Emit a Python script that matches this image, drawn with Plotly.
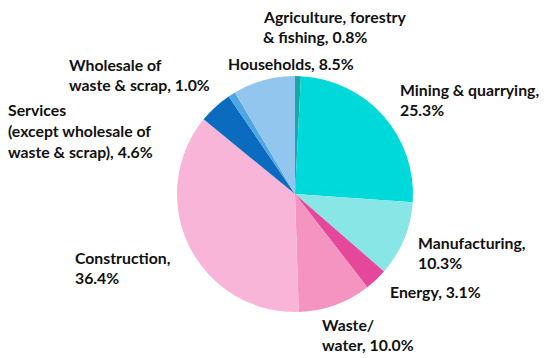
import plotly.graph_objects as go

sectors = ["Agriculture, forestry & fishing", "Mining & quarrying", "Manufacturing",
           "Energy", "Waste/water", "Construction",
           "Services (except wholesale of waste & scrap)", "Wholesale of waste & scrap",
           "Households"]
shares = [0.8, 25.3, 10.3, 3.1, 10.0, 36.4, 4.6, 1.0, 8.5]
colors = ["#17a9a9", "#00d9d9", "#88e6e6", "#e5479a", "#f593c1", "#f9b5d7",
          "#0b6cbf", "#4fa6e0", "#93c6ee"]

# label text lines and (left x, first line centre y) in page pixels
label_lines = [
    ["Agriculture, forestry", "& fishing, 0.8%"],
    ["Mining & quarrying,", "25.3%"],
    ["Manufacturing,", "10.3%"],
    ["Energy, 3.1%"],
    ["Waste/", "water, 10.0%"],
    ["Construction,", "36.4%"],
    ["Services", "(except wholesale of", "waste & scrap), 4.6%"],
    ["Wholesale of", "waste & scrap, 1.0%"],
    ["Households, 8.5%"],
]
label_pos = [(263, 16), (400, 89), (418, 242), (390, 291), (322, 324),
             (75, 257), (8, 110), (69, 64), (228, 63)]

OFF = 8  # page body margin
W, H = 550 - OFF, 358 - OFF
cx, cy, r = 295 - OFF, 194 - OFF, 118

fig = go.Figure(go.Pie(
    labels=sectors, values=shares, sort=False, direction="clockwise", rotation=0,
    marker=dict(colors=colors, line=dict(width=0)),
    textinfo="none", hoverinfo="label+percent", showlegend=False,
    domain=dict(x=[(cx - r) / W, (cx + r) / W], y=[(H - cy - r) / H, (H - cy + r) / H]),
))

line_h = 20.8
ann = []
for lines, (lx, ly) in zip(label_lines, label_pos):
    for i, t in enumerate(lines):
        ann.append(dict(x=(lx - OFF - 1) / W, y=1 - (ly - OFF + i * line_h) / H,
                        xref="paper", yref="paper", borderpad=0,
                        text="<b>" + t + "</b>", showarrow=False, xanchor="left",
                        yanchor="middle", align="left",
                        font=dict(family="Lato", size=15.8, color="#111111")))

fig.update_layout(width=W, height=H, margin=dict(l=0, r=0, t=0, b=0),
                  paper_bgcolor="white", plot_bgcolor="white", annotations=ann)
fig.write_html("out.html")
